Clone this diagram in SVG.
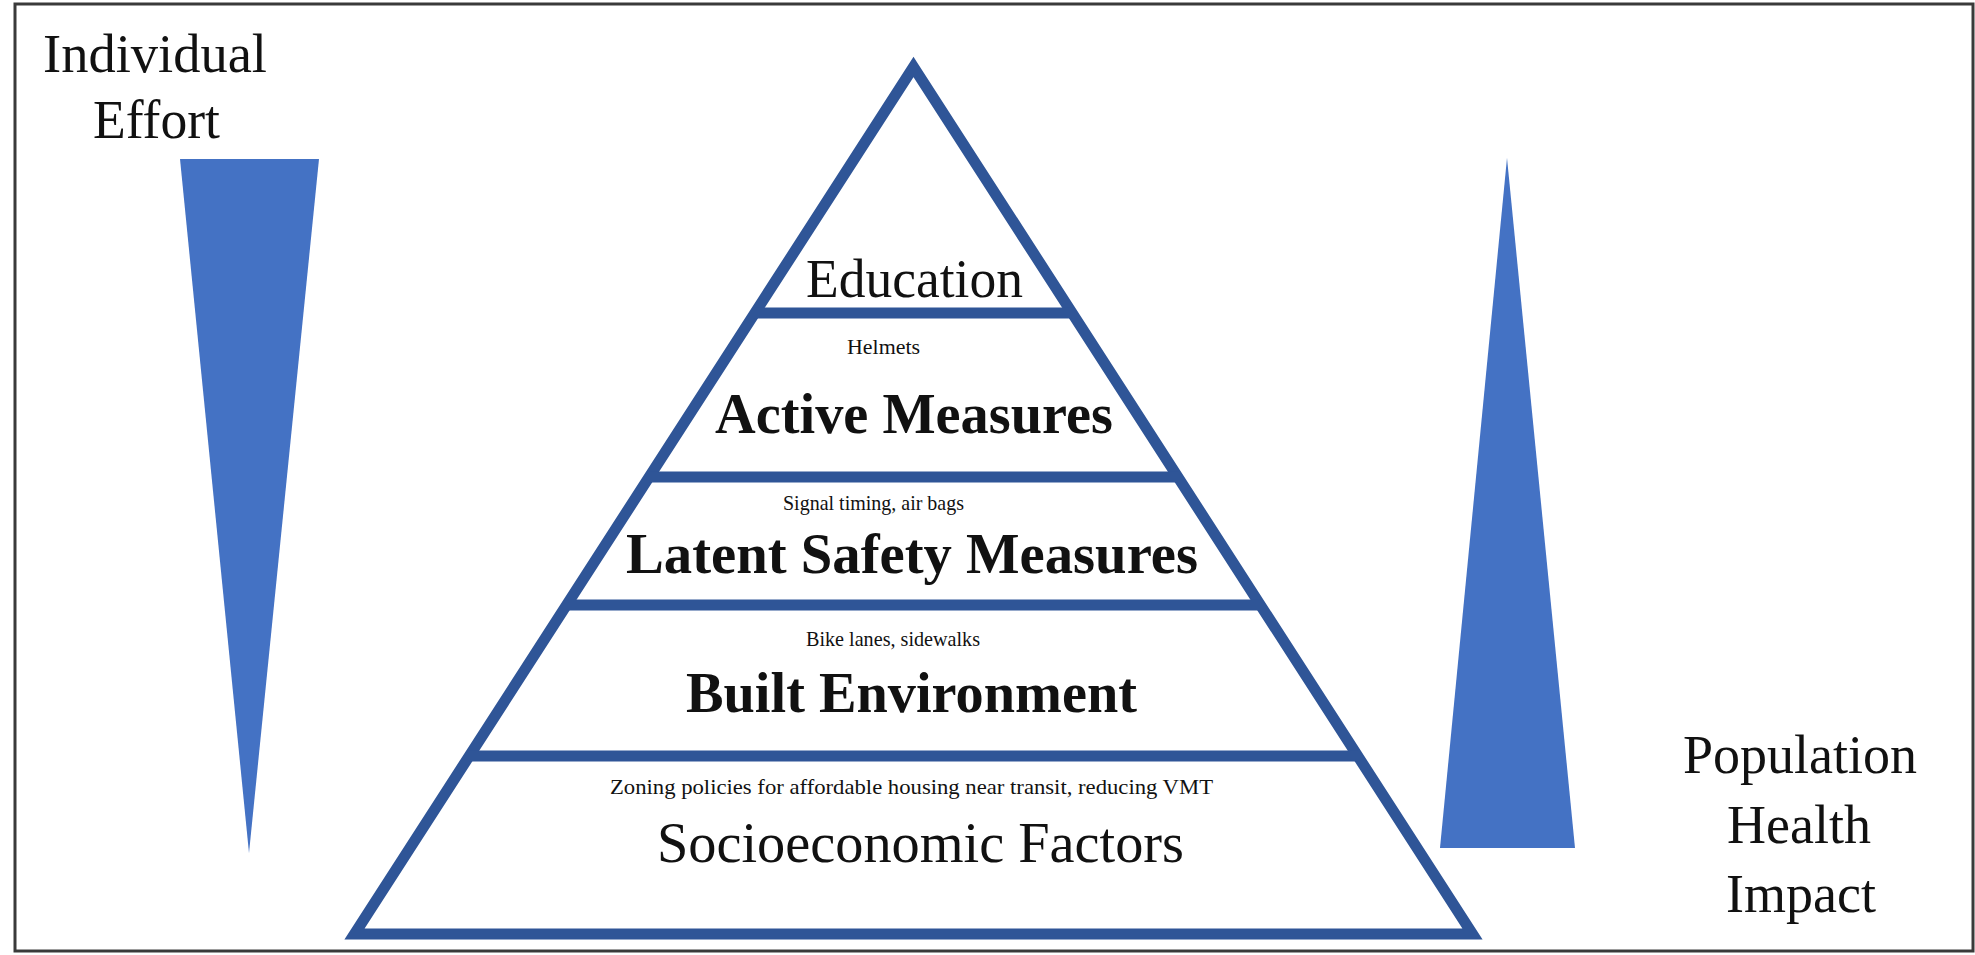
<svg xmlns="http://www.w3.org/2000/svg" width="1975" height="955" viewBox="0 0 1975 955">
<style>
text{font-family:'Liberation Serif',serif;fill:#111}
.big{font-size:56px;font-weight:bold}
.reg{font-size:56px}
.small{font-size:21px}
.side{font-size:55px}
.tier{fill:none;stroke:#2F5597;stroke-width:11;stroke-linejoin:miter;stroke-miterlimit:10}
.bar{stroke:#2F5597;stroke-width:11}
.wedge{fill:#4472C4}
</style>
<rect x="0" y="0" width="1975" height="955" fill="#fff"/>
<rect x="15" y="4" width="1958" height="947" fill="none" stroke="#3a3a3a" stroke-width="3"/>
<g id="individual-effort" font-family="Liberation Serif, serif">
<text class="side" x="43" y="72" textLength="224" lengthAdjust="spacingAndGlyphs">Individual</text>
<text class="side" x="93" y="138" textLength="127" lengthAdjust="spacingAndGlyphs">Effort</text>
<polygon class="wedge" points="180,159 319,159 249,853"/>
</g>
<g id="population-health-impact" font-family="Liberation Serif, serif">
<polygon class="wedge" points="1507,158 1575,848 1440,848"/>
<text x="1800" y="773" text-anchor="middle" font-size="54">Population</text>
<text x="1799" y="843" text-anchor="middle" font-size="54">Health</text>
<text x="1801" y="912" text-anchor="middle" font-size="54">Impact</text>
</g>
<g id="pyramid">
<polygon class="tier" points="913.5,67 1472.5,934 354.5,934"/>
<line class="bar" x1="754" y1="313" x2="1073" y2="313"/>
<line class="bar" x1="649" y1="477" x2="1178" y2="477"/>
<line class="bar" x1="566" y1="605" x2="1261" y2="605"/>
<line class="bar" x1="469" y1="756" x2="1358" y2="756"/>
</g>
<g id="tier-education" font-family="Liberation Serif, serif">
<text x="806" y="297" font-size="54" textLength="217" lengthAdjust="spacingAndGlyphs">Education</text>
</g>
<g id="tier-active" font-family="Liberation Serif, serif">
<text class="small" x="847" y="354" textLength="73" lengthAdjust="spacingAndGlyphs">Helmets</text>
<text class="big" x="715" y="433" textLength="398" lengthAdjust="spacingAndGlyphs">Active Measures</text>
</g>
<g id="tier-latent" font-family="Liberation Serif, serif">
<text class="small" x="783" y="510" textLength="181" lengthAdjust="spacingAndGlyphs">Signal timing, air bags</text>
<text class="big" x="626" y="573" textLength="572" lengthAdjust="spacingAndGlyphs">Latent Safety Measures</text>
</g>
<g id="tier-built" font-family="Liberation Serif, serif">
<text class="small" x="806" y="646" textLength="174" lengthAdjust="spacingAndGlyphs">Bike lanes, sidewalks</text>
<text class="big" x="686" y="712" textLength="451" lengthAdjust="spacingAndGlyphs">Built Environment</text>
</g>
<g id="tier-socioeconomic" font-family="Liberation Serif, serif">
<text class="small" x="610" y="794" textLength="603" lengthAdjust="spacingAndGlyphs">Zoning policies for affordable housing near transit, reducing VMT</text>
<text class="reg" x="657" y="862" textLength="527" lengthAdjust="spacingAndGlyphs">Socioeconomic Factors</text>
</g>
<g id="connectors"></g>
</svg>
